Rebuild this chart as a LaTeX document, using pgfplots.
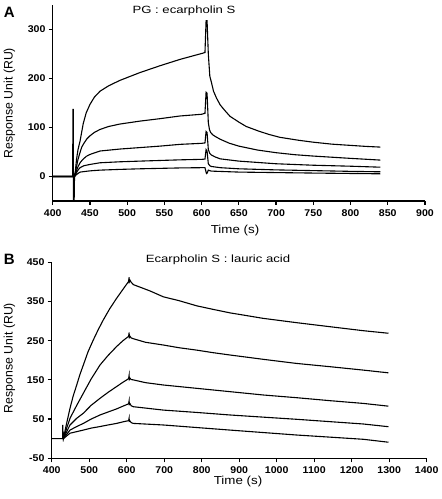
\documentclass[border=0pt]{standalone}
\usepackage{fontspec}
\setmainfont{Liberation Sans}
\newfontfamily\tickfont[FakeStretch=1.08]{Liberation Sans}
\newfontfamily\titlefont[FakeStretch=1.25]{Liberation Sans}
\newfontfamily\xlabfont[FakeStretch=1.15]{Liberation Sans}
\usepackage{pgfplots}
\pgfplotsset{compat=1.18}
\pgfplotsset{
  spr/.style={
    scale only axis,
    axis lines=left,
    axis line style={-, line width=1.2pt},
    tick align=outside,
    major tick length=4pt,
    tick style={line width=1.2pt, black},
    /pgf/number format/assume math mode=true,
    /pgf/number format/1000 sep={},
    tick label style={font=\tickfont\bfseries\fontsize{9.8}{10}\selectfont, inner sep=1pt},
    xticklabel style={yshift=-3pt},
    yticklabel style={xshift=-2pt},
    cycle list={{black}},
    every axis plot post/.append style={line width=1.1pt, black, mark=none},
  }
}
\begin{document}
\begin{tikzpicture}
\path[use as bounding box] (0,0) rectangle (442pt,499pt);
% ---------- Panel A ----------
\begin{axis}[spr,
  at={(52.7pt,298pt)}, anchor=south west,
  width=372.3pt, height=196pt,
  xmin=400, xmax=900, ymin=-50, ymax=350,
  xtick={400,450,...,900}, ytick={0,100,200,300},
]
\addplot coordinates {(400,0)(426.8,0)(427.2,137)(427.6,137)(428.0,-60)(428.7,-60)(429.3,0)(430.5,12)(432,35)(434,55)(436.7,72)(441,108)(445,130)(450,147)(456,162)(463.5,174)(475,185)(490,196)(517,212)(544,226)(571,239)(600,251)(604.5,253)(606,318)(607.3,318)(609,250)(611,205)(613.5,190)(616,174)(620,160)(625,146)(631,135)(638,123)(650,111)(660,102)(676,93)(690,86)(705,80)(730,74)(750,70)(775,66)(800,63.5)(820,61.5)(840,60)};
\addplot coordinates {(400,0)(429.3,0)(430.5,8)(432,20)(434,35)(436.7,49)(439,60)(442,68)(446,77)(450,83)(456,90)(463.5,96)(475,102)(490,107)(517,113)(544,118)(571,123.5)(600,127)(604.5,129)(606,172)(607.3,170)(609,110)(610.5,96)(612,90)(615,85)(618,82)(625,76)(637,68)(650,62)(675,54)(700,48.6)(725,44.5)(750,41.7)(800,37)(840,33.5)};
\addplot coordinates {(400,0)(429.3,0)(430.5,5)(432,12)(434,20)(436.7,28)(440,34)(445,41)(450,45)(463.5,52)(490,56)(517,59)(544,62)(571,65.6)(600,67.7)(604.5,68.5)(606,92)(607.3,90)(609,55)(611,47)(613,44)(618,40)(625,36)(650,31.4)(700,26)(750,23)(800,21)(840,19)};
\addplot coordinates {(400,0)(429.3,0)(430.5,3)(432,8)(434,13)(436.7,18)(442,22)(450,24.6)(463.5,28)(490,30)(517,31.4)(571,34)(600,35)(604.5,35.5)(606,55)(607.3,52)(609,26)(611,22)(613,20.5)(625,18)(650,15.7)(700,13.5)(750,12)(800,10.5)(840,9.6)};
\addplot coordinates {(400,0)(429.3,0)(430.5,2)(432,4)(436.7,9)(450,11.5)(463.5,13)(490,14.5)(517,15.7)(571,17.5)(600,18)(604.5,18)(606.5,6)(607.5,7)(609,13)(611,12)(613,11)(650,9)(700,8)(750,7)(800,6.2)(840,5.5)};
\end{axis}
% ---------- Panel B ----------
\begin{axis}[spr,
  at={(51.7pt,40.7pt)}, anchor=south west,
  width=375pt, height=196pt,
  xmin=400, xmax=1400, ymin=-50, ymax=450,
  xtick={400,500,...,1400}, ytick={-50,50,150,250,350,450},
]
\addplot coordinates {(400,0)(429,0)(429.6,35)(430.3,5)(431,0)(440,40)(448.8,77.5)(457,108)(466.7,137)(475,163)(484.4,188)(497,222)(511,252)(524,278)(537.6,303)(555,332)(573,358)(590,381)(605,401)(606.5,412)(607,400)(609,404)(612,399)(617.8,393)(640,385)(662,377)(697.6,362)(740,352)(786.5,339)(830,330)(875.4,321)(920,314)(964,307)(1053,296)(1142,285.7)(1231,275.5)(1298,269)};
\addplot coordinates {(429,0)(430,18)(431,0)(440,27)(448.8,52)(466.7,85)(484.4,116)(505,152)(528.8,188)(550,212)(573,235)(590,250)(605,261)(606.5,271)(607,258)(609,261)(612,257)(617.8,255)(650,246)(697.6,239)(740,232)(786.5,226)(830,219.5)(875.4,213.5)(920,208)(964,202.5)(1053,192)(1142,183.7)(1231,175)(1298,168)};
\addplot coordinates {(431,0)(440,18)(448.8,35)(466.7,52)(484.4,65)(505,85)(528.8,103)(550,118)(573,133)(590,144)(605,153)(606.5,162)(607,151)(609,154)(612,151)(617.8,150)(650,143)(697.6,137)(786.5,128.5)(875.4,120)(964,111.5)(1053,104.6)(1142,97)(1231,90)(1298,83)};
\addplot coordinates {(431,0)(448.8,22)(466.7,31)(484.4,39)(505,50)(528.8,60.5)(550,68)(573,76)(590,83)(605,89)(606.5,97)(607,87)(609,89)(612,84)(617.8,81.6)(697.6,73)(786.5,67)(875.4,60.5)(964,55)(1053,49.5)(1142,43.5)(1231,37.5)(1298,30.6)};
\addplot coordinates {(431,0)(448.8,14)(466.7,18)(484.4,22)(505,27)(528.8,31)(550,35)(573,39)(590,43)(605,46)(606.5,53)(607,44)(609,45)(612,41)(617.8,39)(697.6,35)(786.5,28.5)(875.4,22)(964,15.7)(1053,9.4)(1142,4)(1231,-1.5)(1298,-9)};
\end{axis}
% ---------- texts ----------
\node[font=\bfseries\fontsize{15}{16}\selectfont] at (9.2pt,486.5pt) {A};
\node[font=\bfseries\fontsize{15}{16}\selectfont] at (9.2pt,240pt) {B};
\node[font=\titlefont\fontsize{10.5}{12}\selectfont] at (184pt,488pt) {PG : ecarpholin S};
\node[font=\titlefont\fontsize{10.5}{12}\selectfont] at (218pt,239pt) {Ecarpholin S : lauric acid};
\node[font=\xlabfont\fontsize{11.6}{13}\selectfont] at (235pt,269pt) {Time (s)};
\node[font=\xlabfont\fontsize{11.6}{13}\selectfont] at (238pt,17.7pt) {Time (s)};
\node[font=\fontsize{12.3}{14}\selectfont, rotate=90] at (9.5pt,396pt) {Response Unit (RU)};
\node[font=\fontsize{12.3}{14}\selectfont, rotate=90] at (9.5pt,141pt) {Response Unit (RU)};
\end{tikzpicture}
\end{document}
